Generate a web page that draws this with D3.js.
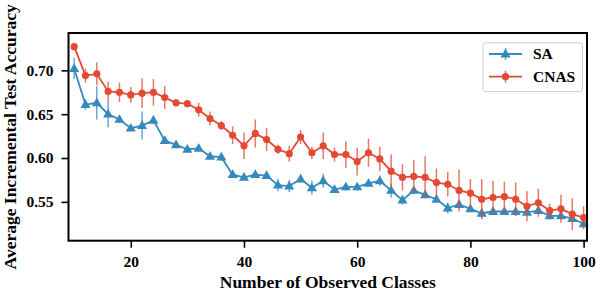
<!DOCTYPE html>
<html>
<head>
<meta charset="utf-8">
<script src="https://cdn.jsdelivr.net/npm/d3@7"></script>
<style>
  body { margin: 0; background: #fff; }
  svg text { font-family: "Liberation Serif", "Times New Roman", serif; font-weight: bold; fill: #000; }
</style>
</head>
<body>
<svg id="chart" width="596" height="294"></svg>
<script>
(function () {
    'use strict';

    var classes = [10, 12, 14, 16, 18, 20, 22, 24, 26, 28, 30, 32, 34, 36, 38, 40,
                   42, 44, 46, 48, 50, 52, 54, 56, 58, 60, 62, 64, 66, 68, 70, 72,
                   74, 76, 78, 80, 82, 84, 86, 88, 90, 92, 94, 96, 98, 100];

    var saMean = [0.702, 0.661, 0.663, 0.650, 0.644, 0.634, 0.637, 0.643, 0.620, 0.615,
                  0.610, 0.611, 0.602, 0.601, 0.581, 0.578, 0.581, 0.580, 0.569, 0.568,
                  0.576, 0.566, 0.574, 0.564, 0.567, 0.567, 0.571, 0.574, 0.563, 0.552,
                  0.563, 0.558, 0.553, 0.543, 0.547, 0.542, 0.537, 0.539, 0.539, 0.539,
                  0.538, 0.540, 0.534, 0.534, 0.531, 0.525];
    var saErr = [0.012, 0.006, 0.019, 0.015, 0.004, 0.003, 0.016, 0.004, 0.003, 0.003,
                 0.003, 0.003, 0.003, 0.004, 0.003, 0.003, 0.003, 0.003, 0.007, 0.007,
                 0.004, 0.008, 0.008, 0.004, 0.004, 0.004, 0.003, 0.006, 0.008, 0.005,
                 0.004, 0.003, 0.003, 0.006, 0.005, 0.003, 0.006, 0.004, 0.004, 0.005,
                 0.003, 0.004, 0.004, 0.003, 0.003, 0.005];

    var cnasMean = [0.727, 0.694, 0.696, 0.676, 0.675, 0.672, 0.674, 0.675, 0.669, 0.663,
                    0.662, 0.655, 0.645, 0.637, 0.626, 0.614, 0.628, 0.621, 0.610, 0.605,
                    0.624, 0.606, 0.614, 0.604, 0.604, 0.596, 0.606, 0.599, 0.585, 0.578,
                    0.579, 0.578, 0.572, 0.570, 0.563, 0.560, 0.553, 0.555, 0.556, 0.553,
                    0.545, 0.549, 0.540, 0.542, 0.536, 0.532];
    var cnasErr = [0.003, 0.008, 0.013, 0.011, 0.011, 0.009, 0.017, 0.015, 0.013, 0.004,
                   0.004, 0.008, 0.008, 0.005, 0.010, 0.015, 0.016, 0.013, 0.005, 0.009,
                   0.008, 0.007, 0.015, 0.008, 0.015, 0.016, 0.016, 0.014, 0.019, 0.015,
                   0.019, 0.024, 0.016, 0.014, 0.024, 0.016, 0.023, 0.019, 0.017, 0.019,
                   0.017, 0.016, 0.008, 0.016, 0.018, 0.013];

    var xTicks = [20, 40, 60, 80, 100],
        yTicks = [0.55, 0.60, 0.65, 0.70];

    var series = [
        { name: 'SA', mean: saMean, err: saErr, color: '#348ABD', marker: 'tri' },
        { name: 'CNAS', mean: cnasMean, err: cnasErr, color: '#E24A33', marker: 'circ' }
    ];

    var left = 68.5, right = 587, top = 33, bottom = 240.7;

    var svg = d3.select('#chart');

    var x = d3.scaleLinear().domain([9, 100.6]).range([left, right]);
    var y = d3.scaleLinear().domain([0.5057, 0.7426]).range([bottom, top]);

    var triangle = d3.symbol().type(d3.symbolTriangle).size(44);

    var plot = svg.append('g');

    series.forEach(function (s) {
        var pts = classes.map(function (c, i) {
            return { x: c, y: s.mean[i], e: s.err[i] };
        });

        //error bars
        plot.append('g')
            .selectAll('line')
            .data(pts)
            .enter()
            .append('line')
            .attr('x1', function (d) { return x(d.x); })
            .attr('x2', function (d) { return x(d.x); })
            .attr('y1', function (d) { return y(d.y - d.e); })
            .attr('y2', function (d) { return y(d.y + d.e); })
            .attr('stroke', s.color)
            .attr('stroke-opacity', 0.75)
            .attr('stroke-width', 1.5);

        plot.append('path')
            .datum(pts)
            .attr('d', d3.line()
                .x(function (d) { return x(d.x); })
                .y(function (d) { return y(d.y); }))
            .attr('fill', 'none')
            .attr('stroke', s.color)
            .attr('stroke-width', 1.8);

        var marks = plot.append('g')
            .selectAll('path')
            .data(pts)
            .enter();

        if (s.marker === 'tri') {
            marks.append('path')
                .attr('d', triangle)
                .attr('transform', function (d) {
                    return 'translate(' + x(d.x) + ',' + (y(d.y) + 0.5) + ')';
                })
                .attr('fill', s.color);
        } else {
            marks.append('circle')
                .attr('cx', function (d) { return x(d.x); })
                .attr('cy', function (d) { return y(d.y); })
                .attr('r', 3.6)
                .attr('fill', s.color);
        }
    });

    //axes
    var xAxis = svg.append('g')
        .attr('transform', 'translate(0,' + bottom + ')')
        .call(d3.axisBottom(x).tickValues(xTicks).tickSize(7).tickPadding(8)
            .tickFormat(d3.format('d')));

    var yAxis = svg.append('g')
        .attr('transform', 'translate(' + left + ',0)')
        .call(d3.axisLeft(y).tickValues(yTicks).tickSize(7).tickPadding(8)
            .tickFormat(d3.format('.2f')));

    [xAxis, yAxis].forEach(function (a) {
        a.select('.domain').remove();
        a.selectAll('.tick line').attr('stroke', '#000').attr('stroke-width', 1.6);
        a.selectAll('.tick text')
            .style('font-family', '"Liberation Serif", serif')
            .style('font-weight', 'bold')
            .style('font-size', '15.5px');
    });

    svg.append('rect')
        .attr('x', left)
        .attr('y', top)
        .attr('width', right - left)
        .attr('height', bottom - top)
        .attr('fill', 'none')
        .attr('stroke', '#000')
        .attr('stroke-width', 2);

    svg.append('text')
        .attr('x', (left + right) / 2)
        .attr('y', 288)
        .attr('text-anchor', 'middle')
        .style('font-size', '17.5px')
        .text('Number of Observed Classes');

    svg.append('text')
        .attr('transform', 'translate(16,' + ((top + bottom) / 2) + ') rotate(-90)')
        .attr('text-anchor', 'middle')
        .style('font-size', '17.5px')
        .text('Average Incremental Test Accuracy');

    //legend
    var legend = svg.append('g');

    legend.append('rect')
        .attr('x', 483)
        .attr('y', 42.7)
        .attr('width', 99.5)
        .attr('height', 49)
        .attr('rx', 3)
        .attr('fill', '#fff')
        .attr('stroke', '#cccccc')
        .attr('stroke-width', 1);

    series.forEach(function (s, i) {
        var ly = 54 + i * 22.7,
            g = legend.append('g');

        g.append('line')
            .attr('x1', 489).attr('x2', 522)
            .attr('y1', ly).attr('y2', ly)
            .attr('stroke', s.color)
            .attr('stroke-width', 1.8);

        g.append('line')
            .attr('x1', 505.5).attr('x2', 505.5)
            .attr('y1', ly - 6).attr('y2', ly + 6)
            .attr('stroke', s.color)
            .attr('stroke-opacity', 0.75)
            .attr('stroke-width', 1.5);

        if (s.marker === 'tri') {
            g.append('path')
                .attr('d', triangle)
                .attr('transform', 'translate(505.5,' + (ly + 0.5) + ')')
                .attr('fill', s.color);
        } else {
            g.append('circle')
                .attr('cx', 505.5).attr('cy', ly).attr('r', 3.6)
                .attr('fill', s.color);
        }

        g.append('text')
            .attr('x', 533)
            .attr('y', ly + 5)
            .style('font-size', '15.5px')
            .text(s.name);
    });
}());
</script>
</body>
</html>
